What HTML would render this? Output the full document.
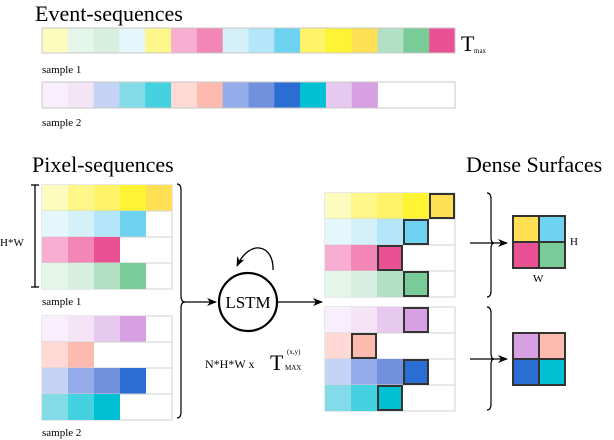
<!DOCTYPE html>
<html><head><meta charset="utf-8"><style>
html,body{margin:0;padding:0;background:#fff;width:614px;height:440px;overflow:hidden}
svg{display:block;font-family:"Liberation Serif",serif}
</style></head><body>
<svg id="s" width="614" height="440" viewBox="0 0 614 440" xmlns="http://www.w3.org/2000/svg">
<defs><marker id="ah" markerWidth="10" markerHeight="8" refX="9" refY="4" orient="auto" markerUnits="userSpaceOnUse"><path d="M0,0 L10,4 L0,8 L3,4 Z" fill="#000"/></marker></defs>
<text x="35" y="21" font-size="22">Event-sequences</text>
<text x="461" y="51" font-size="22">T</text><text x="474" y="53" font-size="7">max</text>
<text x="42" y="73" font-size="11">sample 1</text>
<text x="42" y="126" font-size="11">sample 2</text>
<text x="32" y="172" font-size="22">Pixel-sequences</text>
<text x="466" y="172" font-size="22">Dense Surfaces</text>
<text x="0" y="246" font-size="11">H*W</text>
<line x1="35" y1="185" x2="35" y2="287" stroke="#000" stroke-width="1.3"/>
<line x1="31" y1="185" x2="39" y2="185" stroke="#000" stroke-width="1.3"/>
<line x1="31" y1="287" x2="39" y2="287" stroke="#000" stroke-width="1.3"/>
<text x="42" y="305" font-size="11">sample 1</text>
<text x="42" y="436" font-size="11">sample 2</text>
<path d="M177,184 Q181,184 181,190 L181,296 Q181,302 185,302 Q181,302 181,308 L181,412 Q181,418 177,418" fill="none" stroke="#000" stroke-width="1.2"/>
<line x1="185" y1="302" x2="216" y2="302" stroke="#000" stroke-width="1.3" marker-end="url(#ah)"/>
<circle cx="248" cy="302" r="29" fill="none" stroke="#000" stroke-width="2.2"/>
<text x="248" y="308" font-size="17" text-anchor="middle">LSTM</text>
<path d="M273,270 C274,245 250,238 237,266" fill="none" stroke="#000" stroke-width="1.3" marker-end="url(#ah)"/>
<line x1="278" y1="302" x2="322" y2="302" stroke="#000" stroke-width="1.3" marker-end="url(#ah)"/>
<text x="205" y="368" font-size="12">N*H*W  x</text>
<text x="270" y="370" font-size="22">T</text><text x="287" y="354" font-size="7">(x,y)</text><text x="285" y="370" font-size="7">MAX</text>
<path d="M487,193 Q491,193 491,199 L491,237 Q491,243 494,243 Q491,243 491,249 L491,291 Q491,297 487,297" fill="none" stroke="#000" stroke-width="1.2"/>
<path d="M487,307 Q491,307 491,313 L491,353 Q491,359 494,359 Q491,359 491,365 L491,404 Q491,410 487,410" fill="none" stroke="#000" stroke-width="1.2"/>
<line x1="470" y1="243" x2="507" y2="243" stroke="#000" stroke-width="1.3" marker-end="url(#ah)"/>
<line x1="470" y1="359" x2="507" y2="359" stroke="#000" stroke-width="1.3" marker-end="url(#ah)"/>
<text x="570" y="245" font-size="11">H</text>
<text x="533" y="282" font-size="11">W</text>
<g id="g"></g>
</svg>
<script>
var g=document.getElementById('g'),h='';
function r(x,y,w,hh,c,st,sw){h+='<rect x="'+x+'" y="'+y+'" width="'+w+'" height="'+hh+'" fill="'+c+'" stroke="'+(st||'none')+'" stroke-width="'+(sw||0)+'"/>';}
var s1=['#fefbbe','#e4f5ea','#d7efe1','#e4f8fc','#fff68a','#f7aed2','#f286b4','#d4f1fa','#b2e6f8','#6ed3f1','#fff367','#fff433','#ffe054','#b2e0c4','#79cb97','#ea5194'];
var s2=['#f9effc','#f5e3f6','#c5d3f4','#82dbe6','#44d1e0','#ffd9d4','#fdbbb0','#94adea','#6f91de','#2a6ed4','#00c1d3','#e7c9ef','#d6a0e3'];
var cw=413/16;
s1.forEach(function(c,i){r(42+i*cw,28,cw+0.3,25,c)});
s2.forEach(function(c,i){r(42+i*cw,82,cw+0.3,26,c)});
r(42,28,413,25,'none','#c8c8c8',1);r(42,82,413,26,'none','#c8c8c8',1);
var A=[['#fefbbe','#fff68a','#fff367','#fff433','#ffe054'],['#e4f8fc','#d4f1fa','#b2e6f8','#6ed3f1'],['#f7aed2','#f286b4','#ea5194'],['#e4f5ea','#d7efe1','#b2e0c4','#79cb97']];
var B=[['#f9effc','#f5e3f6','#e7c9ef','#d6a0e3'],['#ffd9d4','#fdbbb0'],['#c5d3f4','#94adea','#6f91de','#2a6ed4'],['#82dbe6','#44d1e0','#00c1d3']];
function grid(x,y,rows,mark){rows.forEach(function(row,j){var yy=y+j*26;
 r(x,yy,130,26,'#fff','#d0d0d0',1);
 row.forEach(function(c,i){r(x+i*26,yy,26,26,c)});});
 if(mark)rows.forEach(function(row,j){var i=row.length-1;r(x+i*26+1,y+j*26+1,24,24,'none','#333',2)});}
grid(42,185,A,0);grid(42,316,B,0);grid(325,193,A,1);grid(325,307,B,1);
function dense(x,y,cs){cs.forEach(function(c,k){r(x+(k%2)*26,y+Math.floor(k/2)*26,26,26,c)});
 r(x,y,52,52,'none','#333',2);h+='<line x1="'+(x+26)+'" y1="'+y+'" x2="'+(x+26)+'" y2="'+(y+52)+'" stroke="#333" stroke-width="2"/><line x1="'+x+'" y1="'+(y+26)+'" x2="'+(x+52)+'" y2="'+(y+26)+'" stroke="#333" stroke-width="2"/>';}
dense(513,216,['#ffe054','#6ed3f1','#ea5194','#79cb97']);
dense(513,333,['#d6a0e3','#fdbbb0','#2a6ed4','#00c1d3']);
g.innerHTML=h;
</script>
</body></html>
